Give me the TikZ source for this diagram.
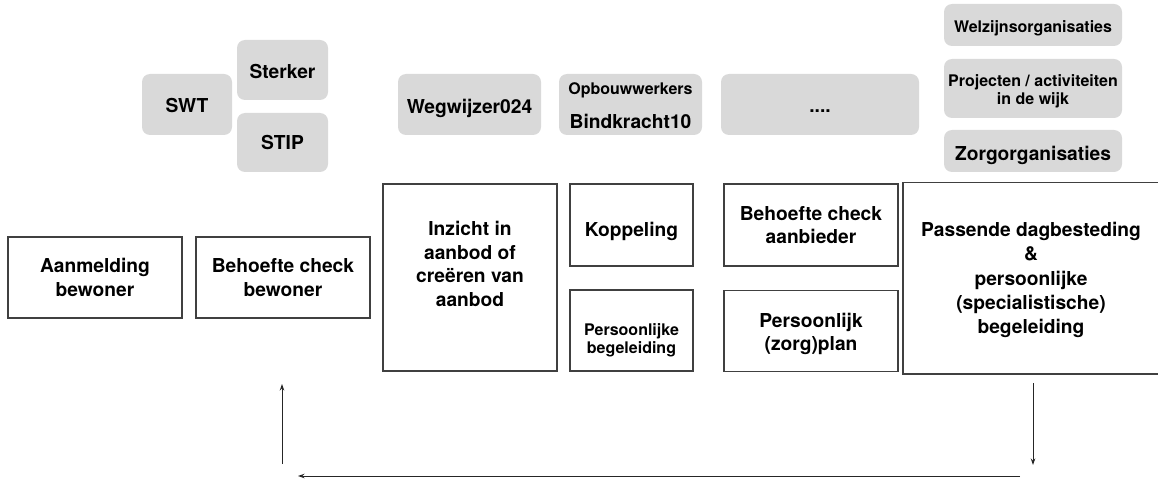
\documentclass[tikz,border=0pt]{standalone}
\usepackage{fontspec}
\setmainfont{TeX Gyre Heros}
\usetikzlibrary{arrows.meta}
\tikzset{
  wbox/.style={draw=black!75, line width=1.2pt, fill=white, inner sep=0pt, align=center, font=\bfseries\fontsize{19.2}{23.5}\selectfont},
  gbox/.style={fill=graybox, rounded corners=8pt, inner sep=0pt},
  txt/.style={inner sep=0pt, align=center, font=\bfseries\fontsize{19.2}{23.5}\selectfont},
  btxt/.style={txt, anchor=base},
  smalltxt/.style={font=\bfseries\fontsize{16}{18}\selectfont},
  flow/.style={draw=black!85, line width=1pt, -{Stealth[length=6.5pt,width=4.5pt]}}
}
\definecolor{graybox}{RGB}{217,217,217}
\begin{document}
\begin{tikzpicture}[x=1pt,y=-1pt]
\useasboundingbox (0,0) rectangle (1158,481);
% gray boxes
\node[gbox, minimum width=90pt, minimum height=61pt] (swt) at (187,104.5) {};
\node[btxt] (swtT) at (187,112.7) {SWT};
\node[gbox, minimum width=91pt, minimum height=60pt] (str) at (282.5,70) {};
\node[btxt] (strT) at (282.5,78.3) {Sterker};
\node[gbox, minimum width=91pt, minimum height=59pt] (stip) at (282.5,142.5) {};
\node[btxt] (stipT) at (282.5,150) {STIP};
\node[gbox, minimum width=143pt, minimum height=61pt] (weg) at (469.5,104.5) {};
\node[btxt] (wegT) at (469.5,113.3) {Wegwijzer024};
\node[gbox, minimum width=143pt, minimum height=61pt] (opb) at (630.5,104.5) {};
\node[btxt, smalltxt] (opbT) at (630.5,94.3) {Opbouwwerkers};
\node[btxt] (bindT) at (630.5,128.3) {Bindkracht10};
\node[gbox, minimum width=198pt, minimum height=61pt] (dots) at (820,104.5) {};
\node[btxt] (dotsT) at (820,113) {....};
\node[gbox, minimum width=178pt, minimum height=42pt] (welz) at (1033,25) {};
\node[btxt, smalltxt] (welzT) at (1033,32.7) {Welzijnsorganisaties};
\node[gbox, minimum width=178pt, minimum height=59pt] (proj) at (1033,88.5) {};
\node[btxt, smalltxt] (projT1) at (1033,86.7) {Projecten / activiteiten};
\node[btxt, smalltxt] (projT2) at (1033,104.7) {in de wijk};
\node[gbox, minimum width=178pt, minimum height=42pt] (zorg) at (1033,151) {};
\node[btxt] (zorgT) at (1033,160.3) {Zorgorganisaties};
% white boxes
\node[wbox, minimum width=174pt, minimum height=81pt] (aan) at (95,277.5) {Aanmelding\\bewoner};
\node[wbox, minimum width=174pt, minimum height=81pt] (bcb) at (283,277.5) {Behoefte check\\bewoner};
\node[wbox, minimum width=174pt, minimum height=187pt] (inz) at (470,277.5) {};
\node[txt] (inzT) at (470,264) {Inzicht in\\aanbod of\\creëren van\\aanbod};
\node[wbox, minimum width=123pt, minimum height=82pt] (kop) at (631.5,225) {};
\node[btxt] (kopT) at (631.5,236) {Koppeling};
\node[wbox, minimum width=123pt, minimum height=81pt] (pbg) at (631.5,330.5) {};
\node[txt, smalltxt] (pbgT) at (631.5,340) {Persoonlijke\\begeleiding};
\node[wbox, minimum width=174pt, minimum height=82pt] (bca) at (811,225) {Behoefte check\\aanbieder};
\node[wbox, minimum width=174pt, minimum height=81pt] (pzp) at (811,331) {};
\node[txt] (pzpT) at (811,334) {Persoonlijk\\(zorg)plan};
\node[wbox, minimum width=256pt, minimum height=191.5pt] (pas) at (1031,278.25) {};
\node[txt, font=\bfseries\fontsize{19.2}{24.2}\selectfont] (pasT) at (1031,280) {Passende dagbesteding\\\&\\persoonlijke\\(specialistische)\\begeleiding};
% arrows
\coordinate (d1) at (1033,383);
\coordinate (d2) at (1033,465);
\coordinate (h1) at (1020,476);
\coordinate (h2) at (298,476);
\coordinate (u1) at (282,464);
\coordinate (u2) at (282,384);
\draw[flow] (d1) -- (d2);
\draw[flow] (h1) -- (h2);
\draw[flow] (u1) -- (u2);
\end{tikzpicture}
\end{document}
